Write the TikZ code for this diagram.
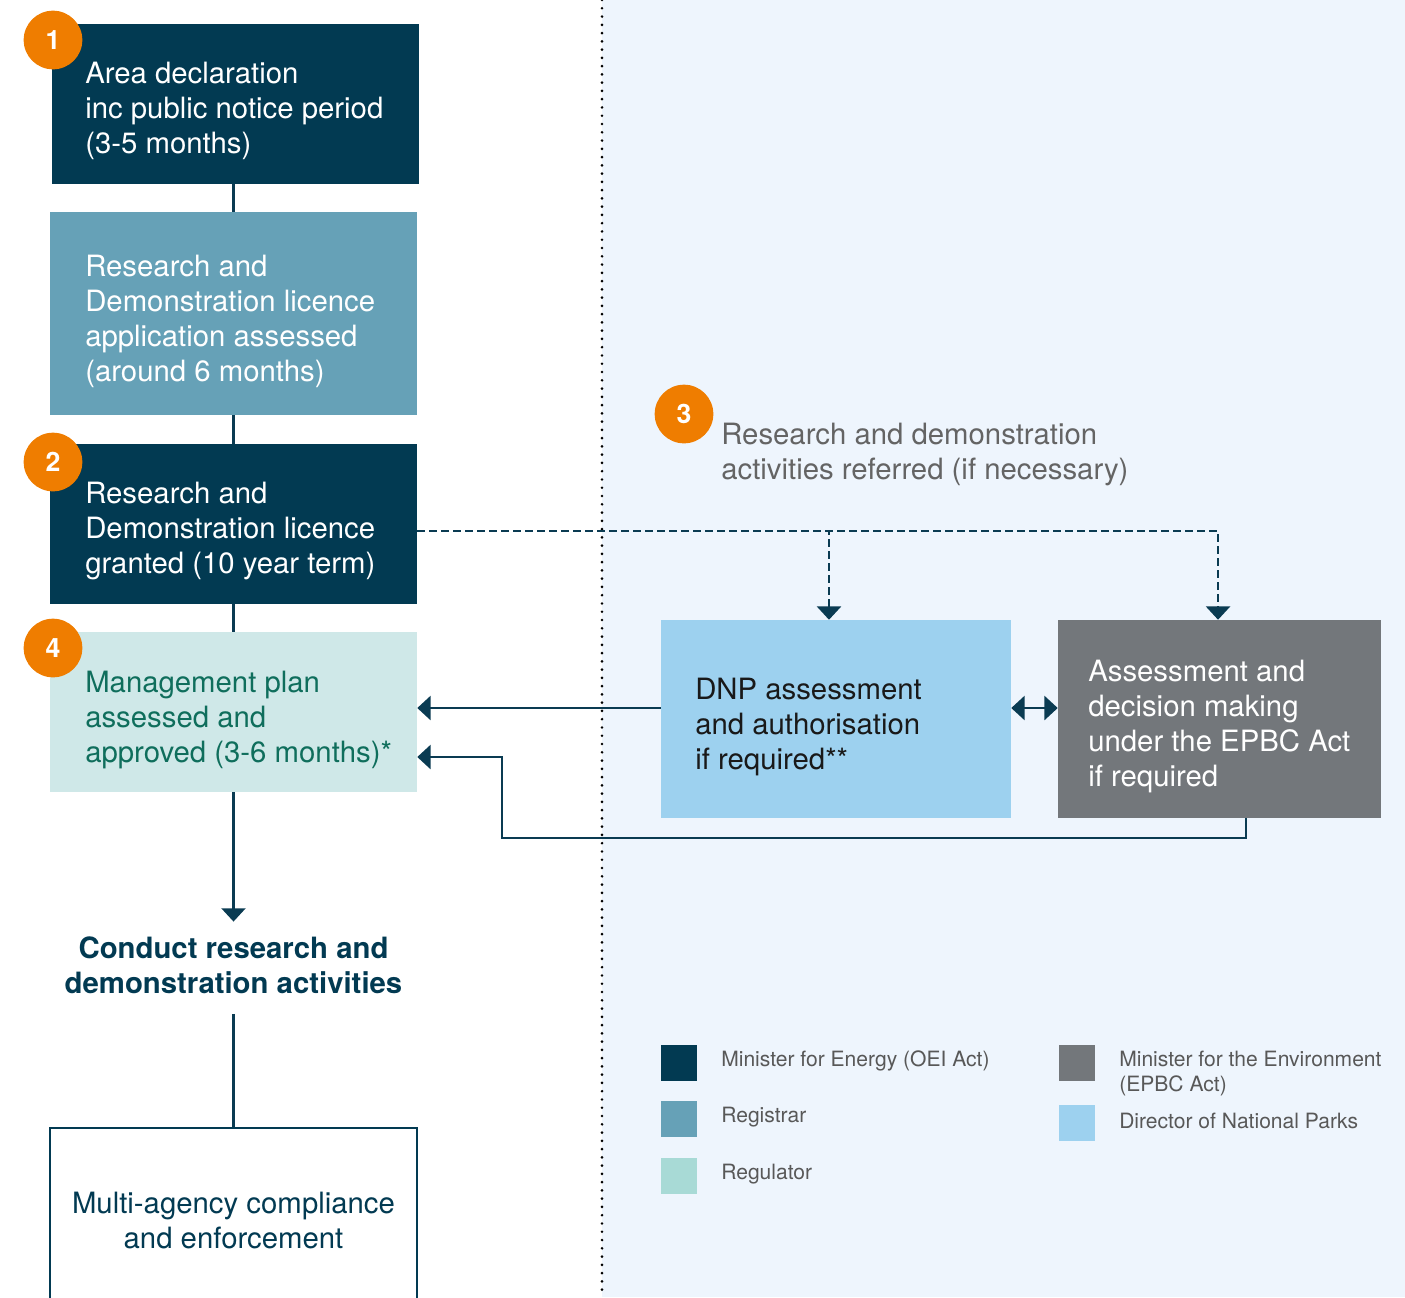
\documentclass[tikz,border=0pt]{standalone}
\usepackage{fontspec}
\setmainfont{TeX Gyre Heros}
\usetikzlibrary{arrows.meta,calc}
\definecolor{navy}{RGB}{2,58,82}
\definecolor{regbl}{RGB}{102,161,183}
\definecolor{regtl}{RGB}{207,232,232}
\definecolor{regleg}{RGB}{168,218,214}
\definecolor{tealtxt}{RGB}{15,110,92}
\definecolor{dnpblue}{RGB}{157,209,239}
\definecolor{envgrey}{RGB}{115,119,123}
\definecolor{badgeor}{RGB}{239,125,0}
\definecolor{panel}{RGB}{238,245,253}
\definecolor{greytxt}{RGB}{100,100,100}
\definecolor{legtxt}{RGB}{88,88,88}
\definecolor{linec}{RGB}{10,59,82}
\begin{document}
\begin{tikzpicture}[x=0.75pt,y=-0.75pt,
  box/.style={rectangle, inner sep=0pt, minimum width=275.25pt, minimum height=120pt},
  txt/.style={anchor=west, align=left, inner sep=0pt, font=\fontsize{22}{26.25}\selectfont},
  badge/.style={circle, fill=badgeor, minimum size=44pt, inner sep=0pt, text=white, font=\fontsize{20}{20}\selectfont\bfseries},
  conn/.style={draw=linec, line width=1.8pt},
  tipd/.style={-{Triangle[width=18pt,length=10pt]}},
  dashline/.style={dash pattern=on 5.5pt off 3.5pt},
  legbox/.style={rectangle, minimum size=27pt, inner sep=0pt},
  legtext/.style={anchor=west, align=left, text=legtxt, inner sep=0pt, font=\fontsize{15.8}{18.75}\selectfont}]
\useasboundingbox (0,0) rectangle (1405,1297);
% background panel and divider
\fill[panel] (602,0) rectangle (1405,1297);
\draw[black, line width=2.2pt, line cap=round, dash pattern=on 0pt off 6.2pt] (602,0) -- (602,1297);

% left column boxes
\node[box, fill=navy] (b1) at (235.5,104) {};
\node[box, fill=regbl, minimum height=152.25pt] (b2) at (233.5,313.5) {};
\node[box, fill=navy] (b3) at (233.5,524) {};
\node[box, fill=regtl] (b4) at (233.5,712) {};
\node[box, fill=white, draw=navy, line width=1.9pt, minimum height=139.5pt, text=navy, align=center, font=\fontsize{22}{26.25}\selectfont] (b5) at (233.5,1221) {Multi-agency compliance\\and enforcement};

\node[txt, text=white] (t1) at (85,111) {Area declaration\\inc public notice period\\(3-5 months)};
\node[txt, text=white] (t2) at (85,321) {Research and\\Demonstration licence\\application assessed\\(around 6 months)};
\node[txt, text=white] (t3b) at (85,531) {Research and\\Demonstration licence\\granted (10 year term)};
\node[txt, text=tealtxt] (t4) at (85,720) {Management plan\\assessed and\\approved (3-6 months)*};

\node[align=center, text=navy, inner sep=0pt, font=\fontsize{22}{26.25}\selectfont\bfseries] (cond) at (233.5,965) {Conduct research and\\demonstration activities};

% right boxes
\node[rectangle, inner sep=0pt, fill=dnpblue, minimum width=262.5pt, minimum height=148.5pt] (dnp) at (836,719) {};
\node[rectangle, inner sep=0pt, fill=envgrey, minimum width=242.25pt, minimum height=148.5pt] (epbc) at (1219.5,719) {};
\node[txt, text=black!90] (tdnp) at (695,727) {DNP assessment\\and authorisation\\if required**};
\node[txt, text=white] (tepbc) at (1088,726.5) {Assessment and\\decision making\\under the EPBC Act\\if required};

\node[txt, text=greytxt] (t3) at (721,454) {Research and demonstration\\activities referred (if necessary)};

% connectors
\draw[conn] (b2.north) -- (b2.north |- b1.south);
\draw[conn] (b2.south) -- (b3.north);
\draw[conn] (b3.south) -- (b4.north);
\draw[conn, tipd] (b4.south) -- ([yshift=11pt]cond.north);
\draw[conn] ([yshift=-15pt]cond.south) -- (b5.north);

\draw[conn, dashline, tipd] ([yshift=-5.25pt]b3.east) -| ([xshift=-5.25pt]dnp.north);
\draw[conn, dashline, tipd] ([yshift=-5.25pt]b3.east) -| ([xshift=-1.1pt]epbc.north);

\draw[conn, tipd] ([yshift=8.25pt]dnp.west) -- ([yshift=8.25pt]dnp.west -| b4.east);
\draw[conn, {Triangle[width=18pt,length=10pt]}-{Triangle[width=18pt,length=10pt]}] ([yshift=8.25pt]dnp.east) -- ([yshift=8.25pt]epbc.west);

\coordinate (r1) at (502,838);
\draw[conn, tipd] ([xshift=19.9pt]epbc.south) |- (r1) |- ([yshift=-33.75pt]b4.east);

% badges
\node[badge] (n1) at (53,40) {1};
\node[badge] (n2) at (53,462) {2};
\node[badge] (n4) at (53,648) {4};
\node[badge] (n3) at (684,414) {3};

% legend
\node[legbox, fill=navy] (l1) at (679,1063) {};
\node[legbox, fill=regbl] (l2) at (679,1119) {};
\node[legbox, fill=regleg] (l3) at (679,1176) {};
\node[legbox, fill=envgrey] (l4) at (1077,1063) {};
\node[legbox, fill=dnpblue] (l5) at (1077,1123) {};
\node[legtext] (lt1) at (721,1061) {Minister for Energy (OEI Act)};
\node[legtext] (lt2) at (721,1117) {Registrar};
\node[legtext] (lt3) at (721,1174) {Regulator};
\node[legtext] (lt4) at (1119,1073.5) {Minister for the Environment\\(EPBC Act)};
\node[legtext] (lt5) at (1119,1121) {Director of National Parks};
\end{tikzpicture}
\end{document}
